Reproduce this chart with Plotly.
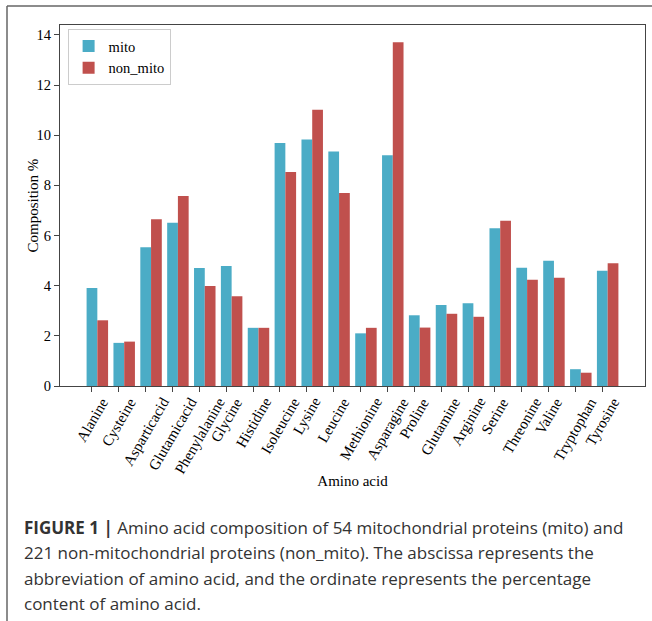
import plotly.graph_objects as go

amino_acids = ["Alanine", "Cysteine", "Asparticacid", "Glutamicacid", "Phenylalanine",
               "Glycine", "Histidine", "Isoleucine", "Lysine", "Leucine", "Methionine",
               "Asparagine", "Proline", "Glutamine", "Arginine", "Serine", "Threonine",
               "Valine", "Tryptophan", "Tyrosine"]
mito = [3.91, 1.72, 5.53, 6.51, 4.71, 4.79, 2.32, 9.69, 9.83, 9.35, 2.10, 9.20,
        2.82, 3.23, 3.30, 6.29, 4.72, 4.99, 0.67, 4.60]
non_mito = [2.62, 1.77, 6.65, 7.58, 3.99, 3.58, 2.32, 8.53, 11.02, 7.70, 2.32, 13.71,
            2.33, 2.88, 2.76, 6.59, 4.24, 4.32, 0.53, 4.89]
y_ticks = [0, 2, 4, 6, 8, 10, 12, 14]
caption_lines = [
    "<b>FIGURE 1 |</b> Amino acid composition of 54 mitochondrial proteins (mito) and",
    "221 non-mitochondrial proteins (non_mito). The abscissa represents the",
    "abbreviation of amino acid, and the ordinate represents the percentage",
    "content of amino acid.",
]

W, H = 652, 621
L, R, T, B = 60, 7, 25, 235
PW, PH = W - L - R, H - T - B


def px_x(px):
    return (px - L) / PW


def px_y(py):
    return (H - B - py) / PH


SERIF = "Liberation Serif"
fig = go.Figure()
fig.add_trace(go.Bar(x=amino_acids, y=mito, name="mito", width=0.4, offset=-0.2,
                     marker=dict(color="#4BACC6", line=dict(width=0))))
fig.add_trace(go.Bar(x=amino_acids, y=non_mito, name="non_mito", width=0.4, offset=0.2,
                     marker=dict(color="#C0504D", line=dict(width=0))))

annotations = []
for name in amino_acids:
    annotations.append(dict(x=name, xref="x", y=px_y(392), yref="paper", text=name,
                            showarrow=False, textangle=-60, xanchor="center", yanchor="top",
                            font=dict(family=SERIF, size=15, color="black")))
annotations.append(dict(x=px_x(32), xref="paper", y=0.5, yref="paper", text="Composition %",
                        showarrow=False, textangle=-90, xanchor="center", yanchor="middle",
                        font=dict(family=SERIF, size=15, color="black")))
for k, line in enumerate(caption_lines):
    annotations.append(dict(x=px_x(22), xref="paper", y=px_y(527.5 + 25.3 * k), yref="paper",
                            text=line, showarrow=False, xanchor="left", yanchor="middle",
                            align="left",
                            font=dict(family="Open Sans", size=17, color="#333333")))

ymax = max(max(mito), max(non_mito)) * 1.05
n = len(amino_acids)
fig.update_layout(
    width=W, height=H,
    margin=dict(l=L, r=R, t=T, b=B, autoexpand=False),
    plot_bgcolor="white", paper_bgcolor="white",
    barmode="overlay",
    showlegend=True,
    legend=dict(x=0.013, y=px_y(29), xanchor="left", yanchor="top",
                bgcolor="white", bordercolor="#cccccc", borderwidth=1,
                font=dict(family=SERIF, size=14.5, color="black"),
                itemwidth=30, tracegroupgap=0),
    font=dict(family=SERIF, color="black"),
    xaxis=dict(type="category", range=[-1.19, n - 1 + 1.59], showticklabels=False,
               ticks="outside", ticklen=5, tickcolor="#444", showgrid=False,
               showline=True, linecolor="#444", linewidth=1, mirror=True,
               title=dict(text="Amino acid", font=dict(family=SERIF, size=15), standoff=84)),
    yaxis=dict(range=[0, ymax], tickvals=y_ticks, ticks="outside", ticklen=5,
               tickcolor="#444", showgrid=False, zeroline=False,
               showline=True, linecolor="#444", linewidth=1, mirror=True,
               tickfont=dict(family=SERIF, size=14.5, color="black")),
    annotations=annotations,
    shapes=[
        dict(type="line", xref="paper", yref="paper", x0=px_x(7), x1=px_x(652),
             y0=px_y(6), y1=px_y(6), line=dict(color="#666", width=1.5)),
        dict(type="line", xref="paper", yref="paper", x0=px_x(7), x1=px_x(7),
             y0=px_y(6), y1=px_y(621), line=dict(color="#666", width=1.5)),
    ],
)
fig.write_html("out.html", config={"displayModeBar": False},
               post_script="document.body.style.margin='0';")
